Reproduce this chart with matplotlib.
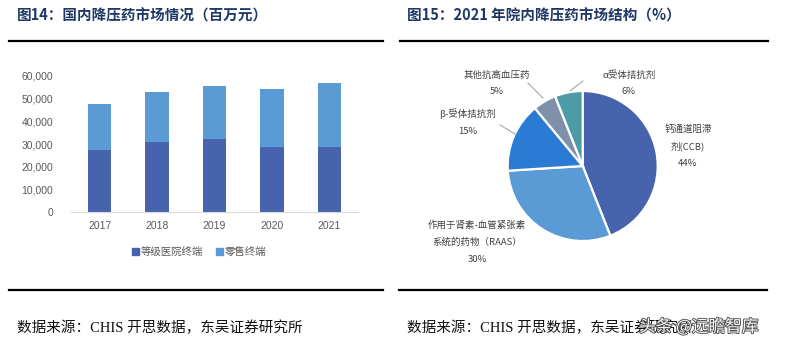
import matplotlib
matplotlib.use("Agg")
import matplotlib.pyplot as plt
from matplotlib.lines import Line2D
from matplotlib.patches import Patch
import matplotlib.patheffects as pe
from matplotlib.ticker import FuncFormatter

plt.rcParams['font.family'] = ['Noto Sans CJK SC', 'DejaVu Sans']

# left chart: domestic antihypertensive market (million yuan)
years = ['2017', '2018', '2019', '2020', '2021']
hospital = [27500, 30700, 32300, 28800, 28500]
retail = [20200, 22100, 23300, 25500, 28100]
bar_names = ['等级医院终端', '零售终端']

# right chart: 2021 in-hospital structure (%)
pie_names = ['钙通道阻滞\n剂(CCB)', '作用于肾素-血管紧张素\n系统的药物（RAAS）',
             'β-受体拮抗剂', '其他抗高血压药', 'α受体拮抗剂']
pie_vals = [44, 30, 15, 5, 6]

title_left = '图14：国内降压药市场情况（百万元）'
title_right = '图15：2021 年院内降压药市场结构（%）'
source = '数据来源：CHIS 开思数据，东吴证券研究所'

W, H = 794, 347
fig = plt.figure(figsize=(W / 100, H / 100), dpi=100)


def box(x0, y0, x1, y1):
    # pixel box (top-left origin) -> figure rect
    return [x0 / W, 1 - y1 / H, (x1 - x0) / W, (y1 - y0) / H]


def fx(x):
    return x / W


def fy(y):
    return 1 - y / H


navy = '#1F3864'
for x0, x1 in [(9, 383), (400, 768)]:
    fig.add_artist(Line2D([fx(x0), fx(x1)], [fy(40.5), fy(40.5)], color='black', lw=1.6))
for x0, x1 in [(9, 383), (399, 767)]:
    fig.add_artist(Line2D([fx(x0), fx(x1)], [fy(290), fy(290)], color='black', lw=1.6))

fig.text(fx(17), fy(16), title_left, fontsize=10.5, fontweight='bold', color=navy, va='center')
fig.text(fx(407), fy(16), title_right, fontsize=10.5, fontweight='bold', color=navy, va='center')

src_font = ['Liberation Serif', 'Noto Sans CJK SC']
fig.text(fx(17), fy(328), source, fontsize=10.5, family=src_font, color='#111111', va='center')
fig.text(fx(407), fy(328), source, fontsize=10.5, family=src_font, color='#111111', va='center')
fig.text(fx(639), fy(327), '头条 @远瞻智库', fontsize=12, color='#fafafa', va='center',
         path_effects=[pe.withStroke(linewidth=1.3, foreground='#505050')])

# stacked bars
c_hosp, c_retail = '#4763AD', '#5B9BD5'
ax = fig.add_axes(box(71, 75.7, 358, 212.3))
x = range(len(years))
ax.bar(x, hospital, width=0.41, color=c_hosp)
ax.bar(x, retail, width=0.41, bottom=hospital, color=c_retail)
ax.set_xlim(-0.5, 4.5)
ax.set_ylim(0, 60000)
ax.set_yticks(range(0, 60001, 10000))
ax.yaxis.set_major_formatter(FuncFormatter(lambda v, p: f'{int(v):,}'))
ax.set_xticks(list(x))
ax.set_xticklabels(years)
for s in ['top', 'right', 'left']:
    ax.spines[s].set_visible(False)
ax.spines['bottom'].set_color('#D9D9D9')
ax.tick_params(length=0, labelsize=7.5, labelcolor='#595959')
ax.tick_params(axis='y', pad=13)
ax.tick_params(axis='x', pad=6)
for t in ax.get_xticklabels() + ax.get_yticklabels():
    t.set_family(['Liberation Sans', 'DejaVu Sans'])

handles = [Patch(color=c_hosp), Patch(color=c_retail)]
fig.legend(handles, bar_names, loc='center', bbox_to_anchor=(fx(199), fy(252)), ncol=2,
           frameon=False, fontsize=7.5, labelcolor='#595959', handlelength=0.7,
           handleheight=0.7, handletextpad=0.2, columnspacing=1.2)

# pie, 1 data unit = 75 px, centred at (582.7, 166)
cx, cy, R = 582.7, 166, 75
pax = fig.add_axes(box(400, 60, 790, 275))
pie_colors = ['#4763AE', '#5B9BD5', '#2B7AD3', '#7F90AA', '#4E9BA8']
pax.pie(pie_vals, colors=pie_colors, startangle=90, counterclock=False,
        wedgeprops=dict(edgecolor='white', linewidth=1.6))
pax.set_aspect('auto')
pax.set_xlim((400 - cx) / R, (790 - cx) / R)
pax.set_ylim((cy - 275) / R, (cy - 60) / R)
pax.axis('off')


def d(px, py):
    return (px - cx) / R, (cy - py) / R


# label block centres (px) and leader lines
label_pos = [(688, 138), (477, 234), (468, 114), (497, 75), (629, 75)]
pct_pos = [(688, 164), (477, 260), (468, 132), (497, 92), (629, 92)]
for name, v, (lx, ly), (px_, py_) in zip(pie_names, pie_vals, label_pos, pct_pos):
    pax.text(*d(lx, ly), name, ha='center', va='center', fontsize=6.8,
             color='#404040', linespacing=2.0)
    pax.text(*d(px_, py_), f'{v}%', ha='center', va='center', fontsize=6.8, color='#404040')

leaders = [((543, 98), (528, 83)), ((570, 91), (583, 81)), ((515, 134), (500, 125))]
for (x0, y0), (x1, y1) in leaders:
    a, b = d(x0, y0)
    c, e = d(x1, y1)
    pax.plot([a, c], [b, e], color='#A6A6A6', lw=0.8)

fig.savefig('out.png', dpi=100)
